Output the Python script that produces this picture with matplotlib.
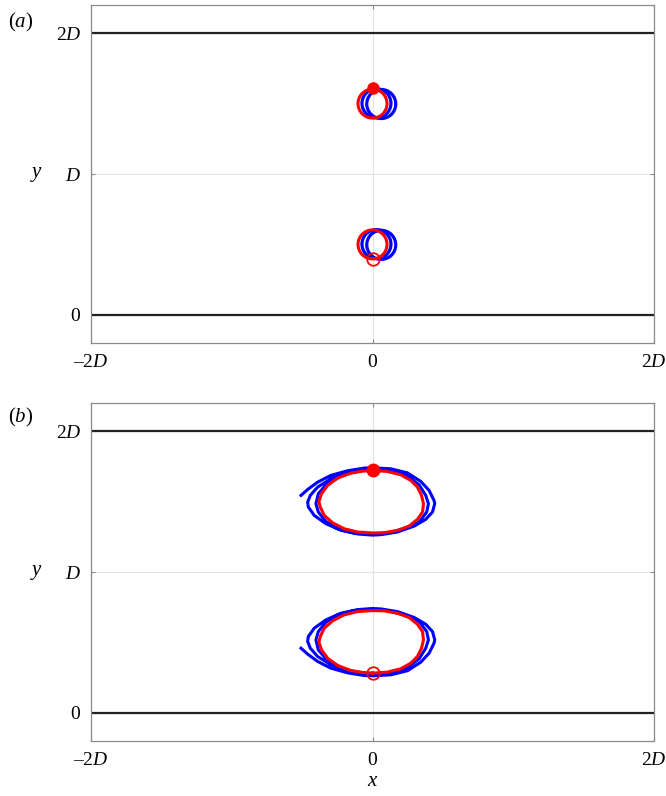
import numpy as np
import matplotlib
matplotlib.use('Agg')
import matplotlib.pyplot as plt
from matplotlib.patches import Circle

plt.rcParams['font.family'] = ['Liberation Serif', 'DejaVu Serif']
plt.rcParams['mathtext.fontset'] = 'custom'
plt.rcParams['mathtext.rm'] = 'Liberation Serif'
plt.rcParams['mathtext.it'] = 'Liberation Serif:italic'

# axis ticks
x_ticks = [-2, 0, 2]
x_labels = ['\u2013$2D$', '$0$', '$2D$']
y_ticks = [0, 1, 2]
y_labels = ['$0$', '$D$', '$2D$']
walls = [0, 2]

# panel (a): near-circular orbits (centre x, centre y, radius)
a_blue_cx = [0.028, 0.062, 0.028, 0.062]
a_blue_cy = [1.502, 1.497, 0.502, 0.497]
a_blue_r = [0.103, 0.103, 0.103, 0.103]
a_red_cx = [0.0, 0.0]
a_red_cy = [1.50, 0.50]
a_red_r = [0.103, 0.103]
a_start_x, a_start_y = 0.0, 1.608   # filled marker
a_end_x, a_end_y = 0.0, 0.397       # open marker

# panel (b): lens-shaped orbits
b_blue_x = [-0.508, -0.461, -0.390, -0.296, -0.177, -0.059, 0.0,
            0.130, 0.248, 0.343, 0.402, 0.437, 0.442, 0.426, 0.378, 0.296, 0.177, 0.059, 0.0,
            -0.106, -0.225, -0.331, -0.414, -0.456, -0.461,
            -0.442, -0.390, -0.296, -0.177, -0.059, 0.0,
            0.130, 0.248, 0.331, 0.378, 0.397, 0.385, 0.331, 0.225, 0.106, 0.0,
            -0.130, -0.248, -0.331, -0.385, -0.402, -0.385, -0.331, -0.248]
b_blue_y_top = [1.544, 1.586, 1.638, 1.686, 1.719, 1.738, 1.740,
                1.733, 1.704, 1.643, 1.579, 1.508, 1.485, 1.426, 1.374, 1.326, 1.284, 1.265, 1.262,
                1.270, 1.296, 1.343, 1.402, 1.461, 1.496,
                1.544, 1.603, 1.662, 1.704, 1.723, 1.726,
                1.719, 1.681, 1.619, 1.544, 1.485, 1.426, 1.355, 1.307, 1.277, 1.270,
                1.277, 1.307, 1.359, 1.426, 1.485, 1.556, 1.619, 1.667]
b_blue_y_bot = [0.459, 0.417, 0.365, 0.317, 0.284, 0.265, 0.263,
                0.270, 0.299, 0.360, 0.424, 0.495, 0.518, 0.577, 0.629, 0.677, 0.719, 0.738, 0.741,
                0.733, 0.707, 0.660, 0.601, 0.542, 0.507,
                0.459, 0.400, 0.341, 0.299, 0.280, 0.277,
                0.284, 0.322, 0.384, 0.459, 0.518, 0.577, 0.648, 0.696, 0.726, 0.733,
                0.726, 0.696, 0.644, 0.577, 0.518, 0.447, 0.384, 0.336]
b_red_x = [0.0, 0.106, 0.201, 0.272, 0.319, 0.348, 0.362, 0.355, 0.319, 0.260, 0.177, 0.083,
           0.0, -0.106, -0.201, -0.284, -0.343, -0.371, -0.381, -0.362, -0.319, -0.248,
           -0.154, -0.071, 0.0]
b_red_y_top = [1.721, 1.714, 1.690, 1.650, 1.603, 1.544, 1.485, 1.426, 1.374, 1.326, 1.296,
               1.279, 1.277, 1.284, 1.307, 1.350, 1.402, 1.461, 1.501, 1.556, 1.615, 1.667,
               1.702, 1.716, 1.721]
b_red_y_bot = [0.282, 0.289, 0.313, 0.353, 0.400, 0.459, 0.518, 0.577, 0.629, 0.677, 0.707,
               0.724, 0.726, 0.719, 0.696, 0.653, 0.601, 0.542, 0.502, 0.447, 0.388, 0.336,
               0.301, 0.287, 0.282]
b_start_x, b_start_y = 0.0, 1.721
b_end_x, b_end_y = 0.0, 0.284

fig = plt.figure(figsize=(6.66, 7.96), dpi=100)
ax_a = fig.add_axes([0.1366, 0.5691, 0.8455, 0.4246])
ax_b = fig.add_axes([0.1366, 0.0691, 0.8455, 0.4246])


def style_axes(ax):
    ax.set_xlim(-2, 2)
    ax.set_ylim(-0.2, 2.2)
    ax.set_xticks(x_ticks)
    ax.set_xticklabels(x_labels)
    ax.set_yticks(y_ticks)
    ax.set_yticklabels(y_labels)
    ax.grid(True, color='#e3e3e3', linewidth=0.8)
    ax.set_axisbelow(True)
    for s in ax.spines.values():
        s.set_color('#8a8a8a')
        s.set_linewidth(0.9)
    ax.tick_params(direction='in', length=3, color='#8a8a8a', labelsize=14,
                   top=True, right=True)
    ax.tick_params(axis='x', pad=8)
    ax.tick_params(axis='y', pad=7)
    for w in walls:
        ax.plot([-2, 2], [w, w], color='#222222', linewidth=1.6, zorder=2)
    ax.set_ylabel('$y$', fontsize=15, rotation=0, labelpad=14, va='center')


style_axes(ax_a)
style_axes(ax_b)
ax_b.set_xlabel('$x$', fontsize=15, labelpad=2)

# panel (a)
for cx, cy, r in zip(a_blue_cx, a_blue_cy, a_blue_r):
    ax_a.add_patch(Circle((cx, cy), r, fill=False, edgecolor='blue', linewidth=2.3, zorder=3))
for cx, cy, r in zip(a_red_cx, a_red_cy, a_red_r):
    ax_a.add_patch(Circle((cx, cy), r, fill=False, edgecolor='red', linewidth=2.2, zorder=4))
ax_a.plot(a_start_x, a_start_y, 'o', color='red', markersize=8, zorder=5)
ax_a.plot(a_end_x, a_end_y, 'o', mfc='none', mec='red', markersize=9, mew=1.3, zorder=5)

# panel (b)
ax_b.plot(b_blue_x, b_blue_y_top, color='blue', linewidth=2.2, zorder=3)
ax_b.plot(b_blue_x, b_blue_y_bot, color='blue', linewidth=2.2, zorder=3)
ax_b.plot(b_red_x, b_red_y_top, color='red', linewidth=2.2, zorder=4)
ax_b.plot(b_red_x, b_red_y_bot, color='red', linewidth=2.2, zorder=4)
ax_b.plot(b_start_x, b_start_y, 'o', color='red', markersize=9, zorder=5)
ax_b.plot(b_end_x, b_end_y, 'o', mfc='none', mec='red', markersize=9, mew=1.3, zorder=5)

fig.text(0.012, 0.966, '($a$)', fontsize=15)
fig.text(0.012, 0.469, '($b$)', fontsize=15)

fig.savefig('out.png', dpi=100)
